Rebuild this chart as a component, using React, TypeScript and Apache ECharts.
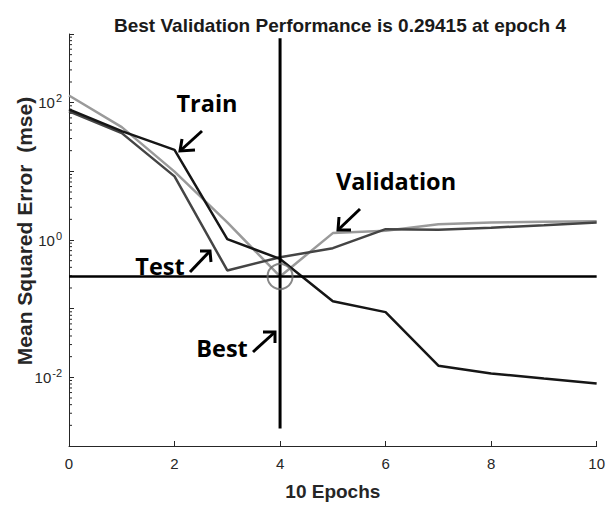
import React, { useEffect, useRef } from "react";
import * as echarts from "echarts";

const epochs = [0, 1, 2, 3, 4, 5, 6, 7, 8, 9, 10];
const trainValues = [80, 38.5, 20.5, 1.03, 0.53, 0.128, 0.089, 0.0148, 0.0114, 0.0096, 0.0081];
const validationValues = [127, 44, 9.9, 1.8, 0.29415, 1.26, 1.36, 1.7, 1.8, 1.85, 1.88];
const testValues = [75, 36, 8.45, 0.36, 0.56, 0.76, 1.44, 1.41, 1.51, 1.64, 1.8];
const bestEpoch = 4;
const bestValue = 0.29415;
const bestLineTop = 870;
const bestLineBottom = 0.0018;
const xTicks = [0, 2, 4, 6, 8, 10];
const yMin = 0.001;
const yMax = 1000;
const minorExponents = [-3, -2, -1, 0, 1, 2];
const minorMultipliers = [2, 3, 4, 5, 6, 7, 8, 9];

const titleText = "Best Validation Performance is 0.29415 at epoch 4";
const xName = "10 Epochs";
const yName = "Mean Squared Error  (mse)";

export default function App() {
  const ref = useRef<HTMLDivElement>(null);
  useEffect(() => {
    if (!ref.current) return;
    const chart = echarts.init(ref.current, null, { renderer: "svg" });
    const minorTicks: number[][] = [];
    minorExponents.forEach((e) =>
      minorMultipliers.forEach((m) => minorTicks.push([0, m * Math.pow(10, e)]))
    );
    const sans = "'Liberation Sans', Arial, sans-serif";
    const annFont = "'Open Sans', 'DejaVu Sans', sans-serif";
    const arrow = (pts: number[][]) => ({
      type: "polyline",
      shape: { points: pts },
      style: { stroke: "#000", lineWidth: 3, fill: null },
      z: 10,
    });
    const ann = (text: string, x: number, y: number) => ({
      type: "text",
      x,
      y,
      z: 10,
      style: {
        text,
        fill: "#000",
        font: `bold 23.5px ${annFont}`,
        textAlign: "center",
        textVerticalAlign: "middle",
      },
    });
    const option: any = {
      animation: false,
      backgroundColor: "#fff",
      title: {
        text: titleText,
        left: 335,
        top: 11,
        textAlign: "center",
        textStyle: {
          fontFamily: sans,
          fontWeight: "bold",
          fontSize: 19,
          color: "#1a1a1a",
        },
      },
      grid: { left: 69, right: 10, top: 34, bottom: 57 },
      xAxis: {
        type: "value",
        min: 0,
        max: 10,
        interval: 2,
        name: xName,
        nameLocation: "middle",
        nameGap: 36,
        nameTextStyle: {
          fontFamily: sans,
          fontWeight: "bold",
          fontSize: 19,
          color: "#262626",
        },
        axisLine: { lineStyle: { color: "#262626", width: 1 } },
        axisTick: { inside: true, length: 5, lineStyle: { color: "#262626" } },
        axisLabel: {
          fontFamily: sans,
          fontSize: 15,
          color: "#262626",
          margin: 10,
          formatter: (v: number) => (xTicks.includes(v) ? String(v) : ""),
        },
        splitLine: { show: false },
      },
      yAxis: {
        type: "log",
        logBase: 10,
        min: yMin,
        max: yMax,
        interval: 1,
        axisLine: { show: true, lineStyle: { color: "#262626", width: 1 } },
        axisTick: { show: true, inside: true, length: 5, lineStyle: { color: "#262626" } },
        axisLabel: {
          margin: 7,
          color: "#262626",
          formatter: (v: number) => {
            const e = Math.round(Math.log10(v));
            if (e % 2 !== 0) return "";
            return `{b|10}{s|${e}}`;
          },
          rich: {
            b: { fontFamily: sans, fontSize: 15, color: "#262626" },
            s: {
              fontFamily: sans,
              fontSize: 11,
              color: "#262626",
              padding: [0, 0, 9, 1],
            },
          },
        },
        splitLine: { show: false },
      },
      series: [
        {
          type: "custom",
          silent: true,
          clip: false,
          data: minorTicks,
          renderItem: (params: any, api: any) => {
            const p = api.coord([api.value(0), api.value(1)]);
            return {
              type: "line",
              shape: { x1: p[0], y1: p[1], x2: p[0] + 3, y2: p[1] },
              style: { stroke: "#262626", lineWidth: 1 },
            };
          },
          z: 1,
        },
        {
          name: "Validation",
          type: "line",
          data: epochs.map((e, i) => [e, validationValues[i]]),
          symbol: "none",
          lineStyle: { color: "#9a9a9a", width: 2.5 },
          z: 2,
        },
        {
          name: "Test",
          type: "line",
          data: epochs.map((e, i) => [e, testValues[i]]),
          symbol: "none",
          lineStyle: { color: "#444444", width: 2.5 },
          z: 3,
        },
        {
          name: "Train",
          type: "line",
          data: epochs.map((e, i) => [e, trainValues[i]]),
          symbol: "none",
          lineStyle: { color: "#161616", width: 2.5 },
          z: 4,
        },
        {
          name: "BestH",
          type: "line",
          data: [
            [0, bestValue],
            [10, bestValue],
          ],
          symbol: "none",
          lineStyle: { color: "#000", width: 2.5 },
          z: 5,
        },
        {
          name: "BestV",
          type: "line",
          data: [
            [bestEpoch, bestLineTop],
            [bestEpoch, bestLineBottom],
          ],
          symbol: "none",
          lineStyle: { color: "#000", width: 3 },
          z: 5,
        },
        {
          name: "BestCircle",
          type: "scatter",
          data: [[bestEpoch, bestValue]],
          symbol: "circle",
          symbolSize: 25,
          itemStyle: { color: "rgba(0,0,0,0)", borderColor: "#6a6a6a", borderWidth: 2 },
          z: 6,
        },
      ],
      graphic: [
        {
          type: "text",
          x: 24,
          y: 231,
          rotation: Math.PI / 2,
          style: {
            text: yName,
            fill: "#262626",
            font: `bold 21px ${sans}`,
            textAlign: "center",
            textVerticalAlign: "middle",
          },
        },
        ann("Train", 207, 103),
        arrow([[202, 131], [180, 151]]),
        arrow([[182, 139], [180, 151], [195, 150]]),
        ann("Validation", 396, 181),
        arrow([[360, 209], [338, 230]]),
        arrow([[339, 217], [338, 230], [351, 230]]),
        ann("Test", 160, 266),
        arrow([[190, 272], [210, 251]]),
        arrow([[200, 251], [210, 251], [211, 262]]),
        ann("Best", 222, 348),
        arrow([[253, 352], [275, 332]]),
        arrow([[263, 332], [275, 332], [275, 343]]),
      ],
    };
    chart.setOption(option);
    return () => chart.dispose();
  }, []);
  return (
    <div
      ref={ref}
      style={{ position: "fixed", left: 0, top: 0, width: 608, height: 506 }}
    />
  );
}
